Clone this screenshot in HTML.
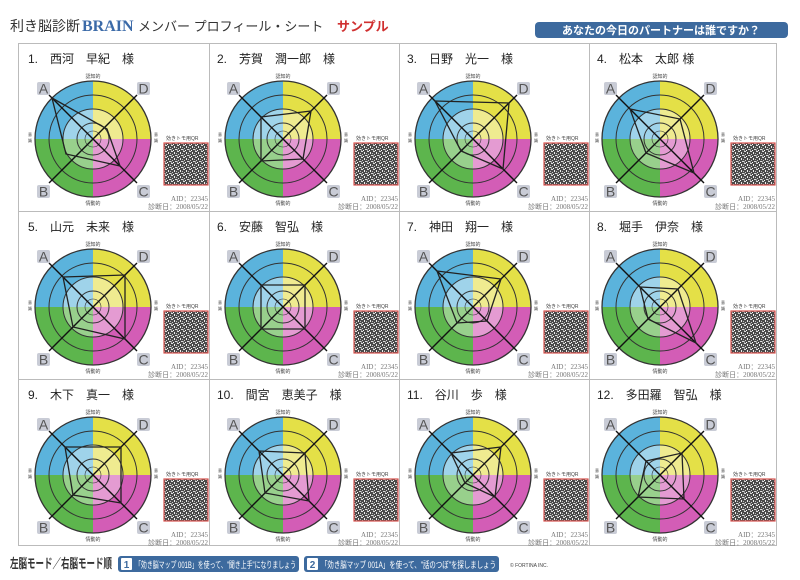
<!DOCTYPE html>
<html><head><meta charset="utf-8"><style>
body{margin:0;background:#fff;}
svg{display:block;font-family:"Liberation Sans","Noto Sans CJK JP",sans-serif;}
.p{fill:none;stroke:#222;stroke-width:1.3;}
</style></head><body>
<svg width="800" height="580" viewBox="0 0 800 580" xmlns="http://www.w3.org/2000/svg">
<defs>
<pattern id="qr" width="6" height="6" patternUnits="userSpaceOnUse">
<rect width="6" height="6" fill="#4a4a4a"/>
<rect x="0" y="0" width="2" height="1" fill="#ddd"/><rect x="3" y="1" width="1" height="2" fill="#eee"/>
<rect x="1" y="3" width="1" height="1" fill="#ccc"/><rect x="4" y="4" width="2" height="1" fill="#ddd"/>
<rect x="2" y="5" width="1" height="1" fill="#fff"/><rect x="5" y="2" width="1" height="1" fill="#bbb"/>
<rect x="0" y="4" width="1" height="2" fill="#999"/>
</pattern>
<g id="wheel" stroke="none">
<path d="M0,0 L0,-58 A58,58 0 0 0 -58,0 Z" fill="#5bb3dc"/>
<path d="M0,0 L0,-58 A58,58 0 0 1 58,0 Z" fill="#e4e047"/>
<path d="M0,0 L58,0 A58,58 0 0 1 0,58 Z" fill="#d35db6"/>
<path d="M0,0 L0,58 A58,58 0 0 1 -58,0 Z" fill="#5db54d"/>
<path d="M0,0 L0,-30 A30,30 0 0 0 -30,0 Z" fill="#9fd3ea"/>
<path d="M0,0 L0,-30 A30,30 0 0 1 30,0 Z" fill="#efeb90"/>
<path d="M0,0 L30,0 A30,30 0 0 1 0,30 Z" fill="#e49bd2"/>
<path d="M0,0 L0,30 A30,30 0 0 1 -30,0 Z" fill="#98d08c"/>
<g fill="none" stroke="#333" stroke-width="1">
<circle r="58" stroke-width="1.3"/><circle r="44"/><circle r="30"/><circle r="16"/><circle r="8" stroke-width="0.6"/>
</g>
<line x1="-44" y1="-44" x2="44" y2="44" stroke="#111" stroke-width="1.4"/>
<line x1="44" y1="-44" x2="-44" y2="44" stroke="#111" stroke-width="1.4"/>
<g font-size="14" fill="#555" text-anchor="middle" stroke="none">
<rect x="-56" y="-57" width="13" height="13" rx="2" fill="#c9ccd6"/><text x="-49.5" y="-45.5">A</text>
<rect x="44" y="-57" width="13" height="13" rx="2" fill="#c9ccd6"/><text x="50.5" y="-45.5">D</text>
<rect x="-56" y="46" width="13" height="13" rx="2" fill="#c9ccd6"/><text x="-49.5" y="57.5">B</text>
<rect x="44" y="46" width="13" height="13" rx="2" fill="#c9ccd6"/><text x="50.5" y="57.5">C</text>
</g>
<g font-size="5" fill="#444" text-anchor="middle" stroke="none">
<text x="0" y="-61">認知的</text><text x="0" y="66">情動的</text>
<text x="-63" y="-3" font-size="4">意</text><text x="-63" y="3" font-size="4">識</text>
<text x="63" y="-3" font-size="4">意</text><text x="63" y="3" font-size="4">識</text>
</g>
<rect x="71" y="4" width="44" height="42" fill="url(#qr)" stroke="#d9534f" stroke-width="1.2"/>
<text x="73" y="1" font-size="5" fill="#444" stroke="none">効きトモ用QR</text>
<g font-family="Liberation Serif,serif" font-size="7" fill="#777" text-anchor="end" stroke="none">
<text x="115" y="62">AID：22345</text><text x="115" y="70">診断日：2008/05/22</text>
</g>
</g>
</defs>

<!-- header -->
<text x="10" y="31" font-size="14" fill="#333">利き脳診断</text>
<text x="82" y="31" font-size="16" fill="#3b6aa8" font-family="Liberation Serif,serif" font-weight="bold">BRAIN</text>
<text x="138" y="31" font-size="13" fill="#333">メンバー プロフィール・シート</text>
<text x="337" y="31" font-size="13" fill="#d03030" font-weight="bold">サンプル</text>
<rect x="535" y="22" width="253" height="16" rx="4" fill="#3d6a9e"/>
<text x="661" y="34" font-size="11" fill="#fff" text-anchor="middle" font-weight="bold">あなたの今日のパートナーは誰ですか？</text>

<!-- grid -->
<rect x="18.5" y="43.5" width="758" height="502" fill="none" stroke="#bbb"/>
<g stroke="#bbb">
<line x1="209.5" y1="43" x2="209.5" y2="546"/><line x1="399.5" y1="43" x2="399.5" y2="546"/><line x1="589.5" y1="43" x2="589.5" y2="546"/>
<line x1="18" y1="211.5" x2="777" y2="211.5"/><line x1="18" y1="379.5" x2="777" y2="379.5"/>
</g>

<g font-size="12" fill="#222">
<text x="28" y="63">1.　西河　早紀　様</text>
<text x="217" y="63">2.　芳賀　潤一郎　様</text>
<text x="407" y="63">3.　日野　光一　様</text>
<text x="597" y="63">4.　松本　太郎 様</text>
<text x="28" y="231">5.　山元　未来　様</text>
<text x="217" y="231">6.　安藤　智弘　様</text>
<text x="407" y="231">7.　神田　翔一　様</text>
<text x="597" y="231">8.　堀手　伊奈　様</text>
<text x="28" y="399">9.　木下　真一　様</text>
<text x="217" y="399">10.　間宮　恵美子　様</text>
<text x="407" y="399">11.　谷川　歩　様</text>
<text x="597" y="399">12.　多田羅　智弘　様</text>
</g>

<g transform="translate(93,139)"><use href="#wheel"/><polygon class="p" points="-41,-41 14,-10 27,27 -27,15"/></g>
<g transform="translate(283,139)"><use href="#wheel"/><polygon class="p" points="-22,-22 28,-28 20,20 -22,22"/></g>
<g transform="translate(473,139)"><use href="#wheel"/><polygon class="p" points="-38,-38 36,-36 30,30 -12,12"/></g>
<g transform="translate(660,139)"><use href="#wheel"/><polygon class="p" points="-30,-30 20,-20 34,34 -14,14"/></g>
<g transform="translate(93,307)"><use href="#wheel"/><polygon class="p" points="-30,-30 32,-32 32,32 -20,20"/></g>
<g transform="translate(283,307)"><use href="#wheel"/><polygon class="p" points="-22,-22 22,-22 22,22 -22,22"/></g>
<g transform="translate(473,307)"><use href="#wheel"/><polygon class="p" points="-36,-36 28,-28 14,14 -16,16"/></g>
<g transform="translate(660,307)"><use href="#wheel"/><polygon class="p" points="-20,-20 18,-18 36,36 -12,12"/></g>
<g transform="translate(93,475)"><use href="#wheel"/><polygon class="p" points="-28,-28 28,-28 28,28 -20,20"/></g>
<g transform="translate(283,475)"><use href="#wheel"/><polygon class="p" points="-24,-24 22,-22 26,26 -18,18"/></g>
<g transform="translate(473,475)"><use href="#wheel"/><polygon class="p" points="-22,-22 28,-28 22,22 -8,8"/></g>
<g transform="translate(660,475)"><use href="#wheel"/><polygon class="p" points="-14,-14 22,-22 24,24 -22,22"/></g>

<!-- footer -->
<text x="10" y="568" font-size="13" font-weight="bold" fill="#333" textLength="102" lengthAdjust="spacingAndGlyphs">左脳モード／右脳モード順</text>
<rect x="118" y="556" width="181" height="16" rx="3" fill="#3d6a9e"/>
<rect x="121" y="558" width="11" height="12" rx="1" fill="#fff"/><text x="126.5" y="568" font-size="10" fill="#3d6a9e" text-anchor="middle" font-weight="bold">1</text>
<text x="135" y="568" font-size="9" fill="#fff" textLength="161" lengthAdjust="spacingAndGlyphs">「効き脳マップ 001B」を使って、"聞き上手"になりましょう</text>
<rect x="304" y="556" width="195" height="16" rx="3" fill="#3d6a9e"/>
<rect x="307" y="558" width="11" height="12" rx="1" fill="#fff"/><text x="312.5" y="568" font-size="10" fill="#3d6a9e" text-anchor="middle" font-weight="bold">2</text>
<text x="321" y="568" font-size="9" fill="#fff" textLength="175" lengthAdjust="spacingAndGlyphs">「効き脳マップ 001A」を使って、"話のつぼ"を探しましょう</text>
<text x="510" y="567" font-size="5" fill="#444">© FORTINA INC.</text>
</svg>
</body></html>
